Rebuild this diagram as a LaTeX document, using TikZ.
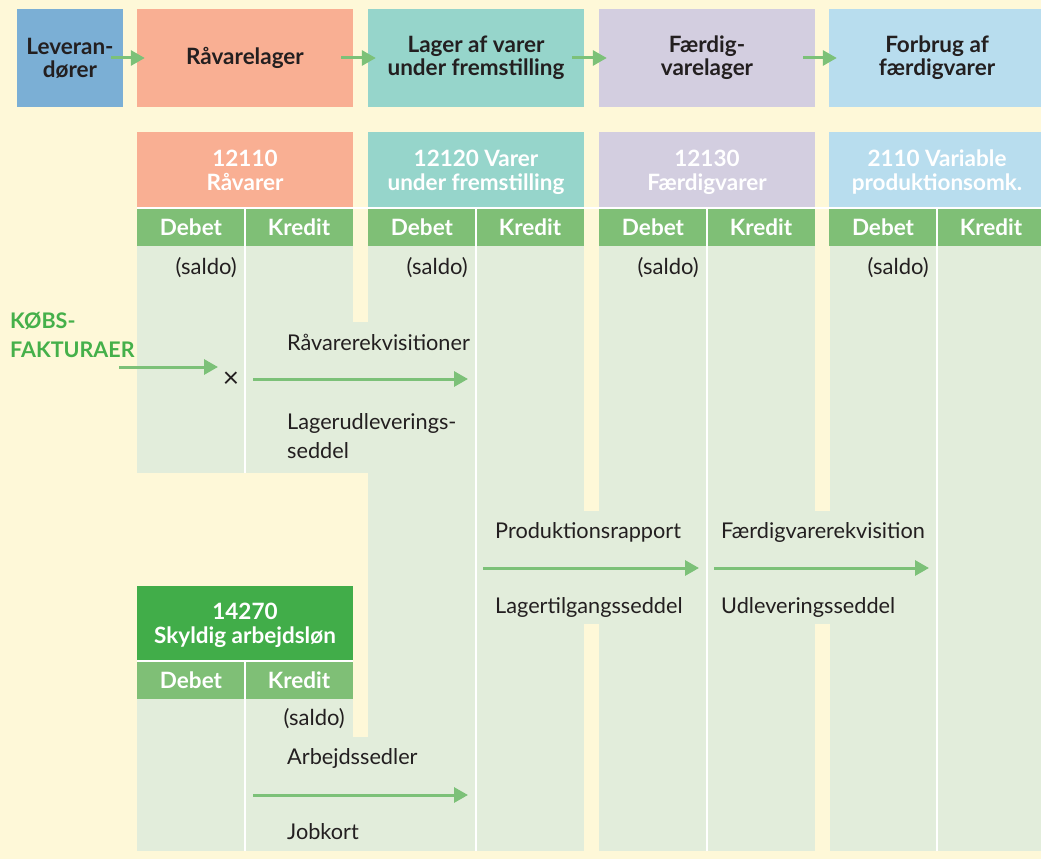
\documentclass[tikz,border=0pt]{standalone}
\usepackage{fontspec}
\setmainfont{Lato}
\usepackage[HTML]{xcolor}
\usepackage{tikz}
\usetikzlibrary{positioning, arrows.meta}

\definecolor{cream}{HTML}{FEF8D8}
\definecolor{levblue}{HTML}{7BAFD5}
\definecolor{salmon}{HTML}{F9AF93}
\definecolor{tealacc}{HTML}{96D5CB}
\definecolor{lavender}{HTML}{D3CEE0}
\definecolor{skyblue}{HTML}{B8DDEE}
\definecolor{dkgreen}{HTML}{7FBF76}
\definecolor{bodygreen}{HTML}{E2EDDB}
\definecolor{wagegreen}{HTML}{41AD49}
\definecolor{flowgreen}{HTML}{7CC178}
\definecolor{kobsgreen}{HTML}{45B04A}
\definecolor{ink}{HTML}{231F20}

\begin{document}
\begin{tikzpicture}[x=1pt, y=-1pt,
  every node/.style={inner sep=0pt, text=ink},
  topbox/.style={minimum width=216, minimum height=98, align=center,
                 font=\bfseries\fontsize{22.5}{23}\selectfont},
  acchead/.style={minimum width=216, minimum height=76, align=center, text=white,
                  font=\bfseries\fontsize{22.5}{24}\selectfont},
  dkcell/.style={minimum width=108, minimum height=38, fill=dkgreen, text=white,
                 font=\bfseries\fontsize{22.5}{24}\selectfont},
  lbl/.style={anchor=mid west, align=left, font=\fontsize{21.7}{29}\selectfont},
  saldo/.style={anchor=mid east, font=\fontsize{22}{24}\selectfont},
  flow/.style={flowgreen, line width=3pt, -{Triangle[length=14pt, width=15pt]}},
  divider/.style={white, line width=1.8pt}]
% --- Background ---
\useasboundingbox (0,0) rectangle (1041,859);
\fill[cream] (0,0) rectangle (1041,859);

% --- Account bodies ---
\fill[bodygreen] (137,245) rectangle (353,473);
\fill[bodygreen] (353,322) rectangle (368,473);
\fill[bodygreen] (368,245) rectangle (584,851);
\fill[bodygreen] (584,511) rectangle (599,624);
\fill[bodygreen] (599,245) rectangle (815,851);
\fill[bodygreen] (815,511) rectangle (830,624);
\fill[bodygreen] (830,245) rectangle (1041,851);
\fill[bodygreen] (137,699) rectangle (353,851);
\fill[bodygreen] (353,737) rectangle (368,851);

% --- Process boxes ---
\node[topbox, fill=levblue, minimum width=106] (lev) at (70,58) {Leveran-\\dører};
\foreach \name/\cx/\col/\txt in {raa/245/salmon/{Råvarelager},
                                 vuf/476/tealacc/{Lager af varer\\under fremstilling},
                                 fvl/707/lavender/{Færdig-\\varelager},
                                 fbr/937/skyblue/{Forbrug af\\færdigvarer}}{
  \node[topbox, fill=\col] (\name) at (\cx,58) {\txt};
}
\foreach \a/\b in {lev/raa, raa/vuf, vuf/fvl, fvl/fbr}{
  \draw[flow] ([xshift=-12pt]\a.east) -- ([xshift=8pt]\b.west);
}

% --- T-accounts ---
\foreach \name/\cx/\col/\txt in {raa/245/salmon/{12110\\Råvarer},
                                 vuf/476/tealacc/{12120 Varer\\under fremstilling},
                                 fvl/707/lavender/{12130\\Færdigvarer},
                                 fbr/937/skyblue/{2110 Variable\\produktionsomk.}}{
  \node[acchead, fill=\col, text depth=0pt] (h\name) at (\cx,170) {\txt};
  \node[dkcell] (d\name) at (\cx-54,227) {Debet};
  \node[dkcell] (k\name) at (\cx+54,227) {Kredit};
  \node[saldo] (s\name) at (\cx-8,272) {(saldo)};
}
\node[acchead, fill=wagegreen, text depth=0pt] (hwag) at (245,623.5) {14270\\Skyldig arbejdsløn};
\node[dkcell] (dwag) at (191,680) {Debet};
\node[dkcell] (kwag) at (299,680) {Kredit};
\node[saldo] (swag) at (345,723) {(saldo)};

% --- White rules ---
\draw[white, line width=1.5pt] (137,208) -- (1041,208);
\draw[white, line width=1.5pt] (137,661) -- (353,661);
\foreach \x/\ya/\yb in {245/209/473, 476/209/851, 707/209/851, 937/209/851, 245/661/851}{
  \draw[divider] (\x,\ya) -- (\x,\yb);
}

% --- Documents ---
\node[anchor=mid west, align=left, text=kobsgreen,
      font=\bfseries\fontsize{21.5}{29}\selectfont] (kobs) at (10,355) {KØBS-\\FAKTURAER};
\node[font=\fontsize{28}{28}\selectfont] (mark) at (231,380) {×};
\node[lbl] (rek) at (287,348) {Råvarerekvisitioner};
\node[lbl] (lud) at (287,456) {Lagerudleverings-\\seddel};
\node[lbl] (prod) at (495,536) {Produktionsrapport};
\node[lbl] (ltg) at (495,611) {Lagertilgangsseddel};
\node[lbl] (fvr) at (721,536) {Færdigvarerekvisition};
\node[lbl] (udl) at (721,611) {Udleveringsseddel};
\node[lbl] (arb) at (287,762) {Arbejdssedler};
\node[lbl] (job) at (287,837) {Jobkort};

% --- Flows ---
\coordinate (kobs-s) at (119,367);  \coordinate (kobs-e) at (218,367);
\coordinate (rek-s) at (253,379);   \coordinate (rek-e) at (468,379);
\coordinate (prod-s) at (483,568);  \coordinate (prod-e) at (699,568);
\coordinate (fvr-s) at (714,568);   \coordinate (fvr-e) at (929,568);
\coordinate (arb-s) at (253,795);   \coordinate (arb-e) at (468,795);
\foreach \f in {kobs, rek, prod, fvr, arb}{
  \draw[flow] (\f-s) -- (\f-e);
}
\end{tikzpicture}
\end{document}
